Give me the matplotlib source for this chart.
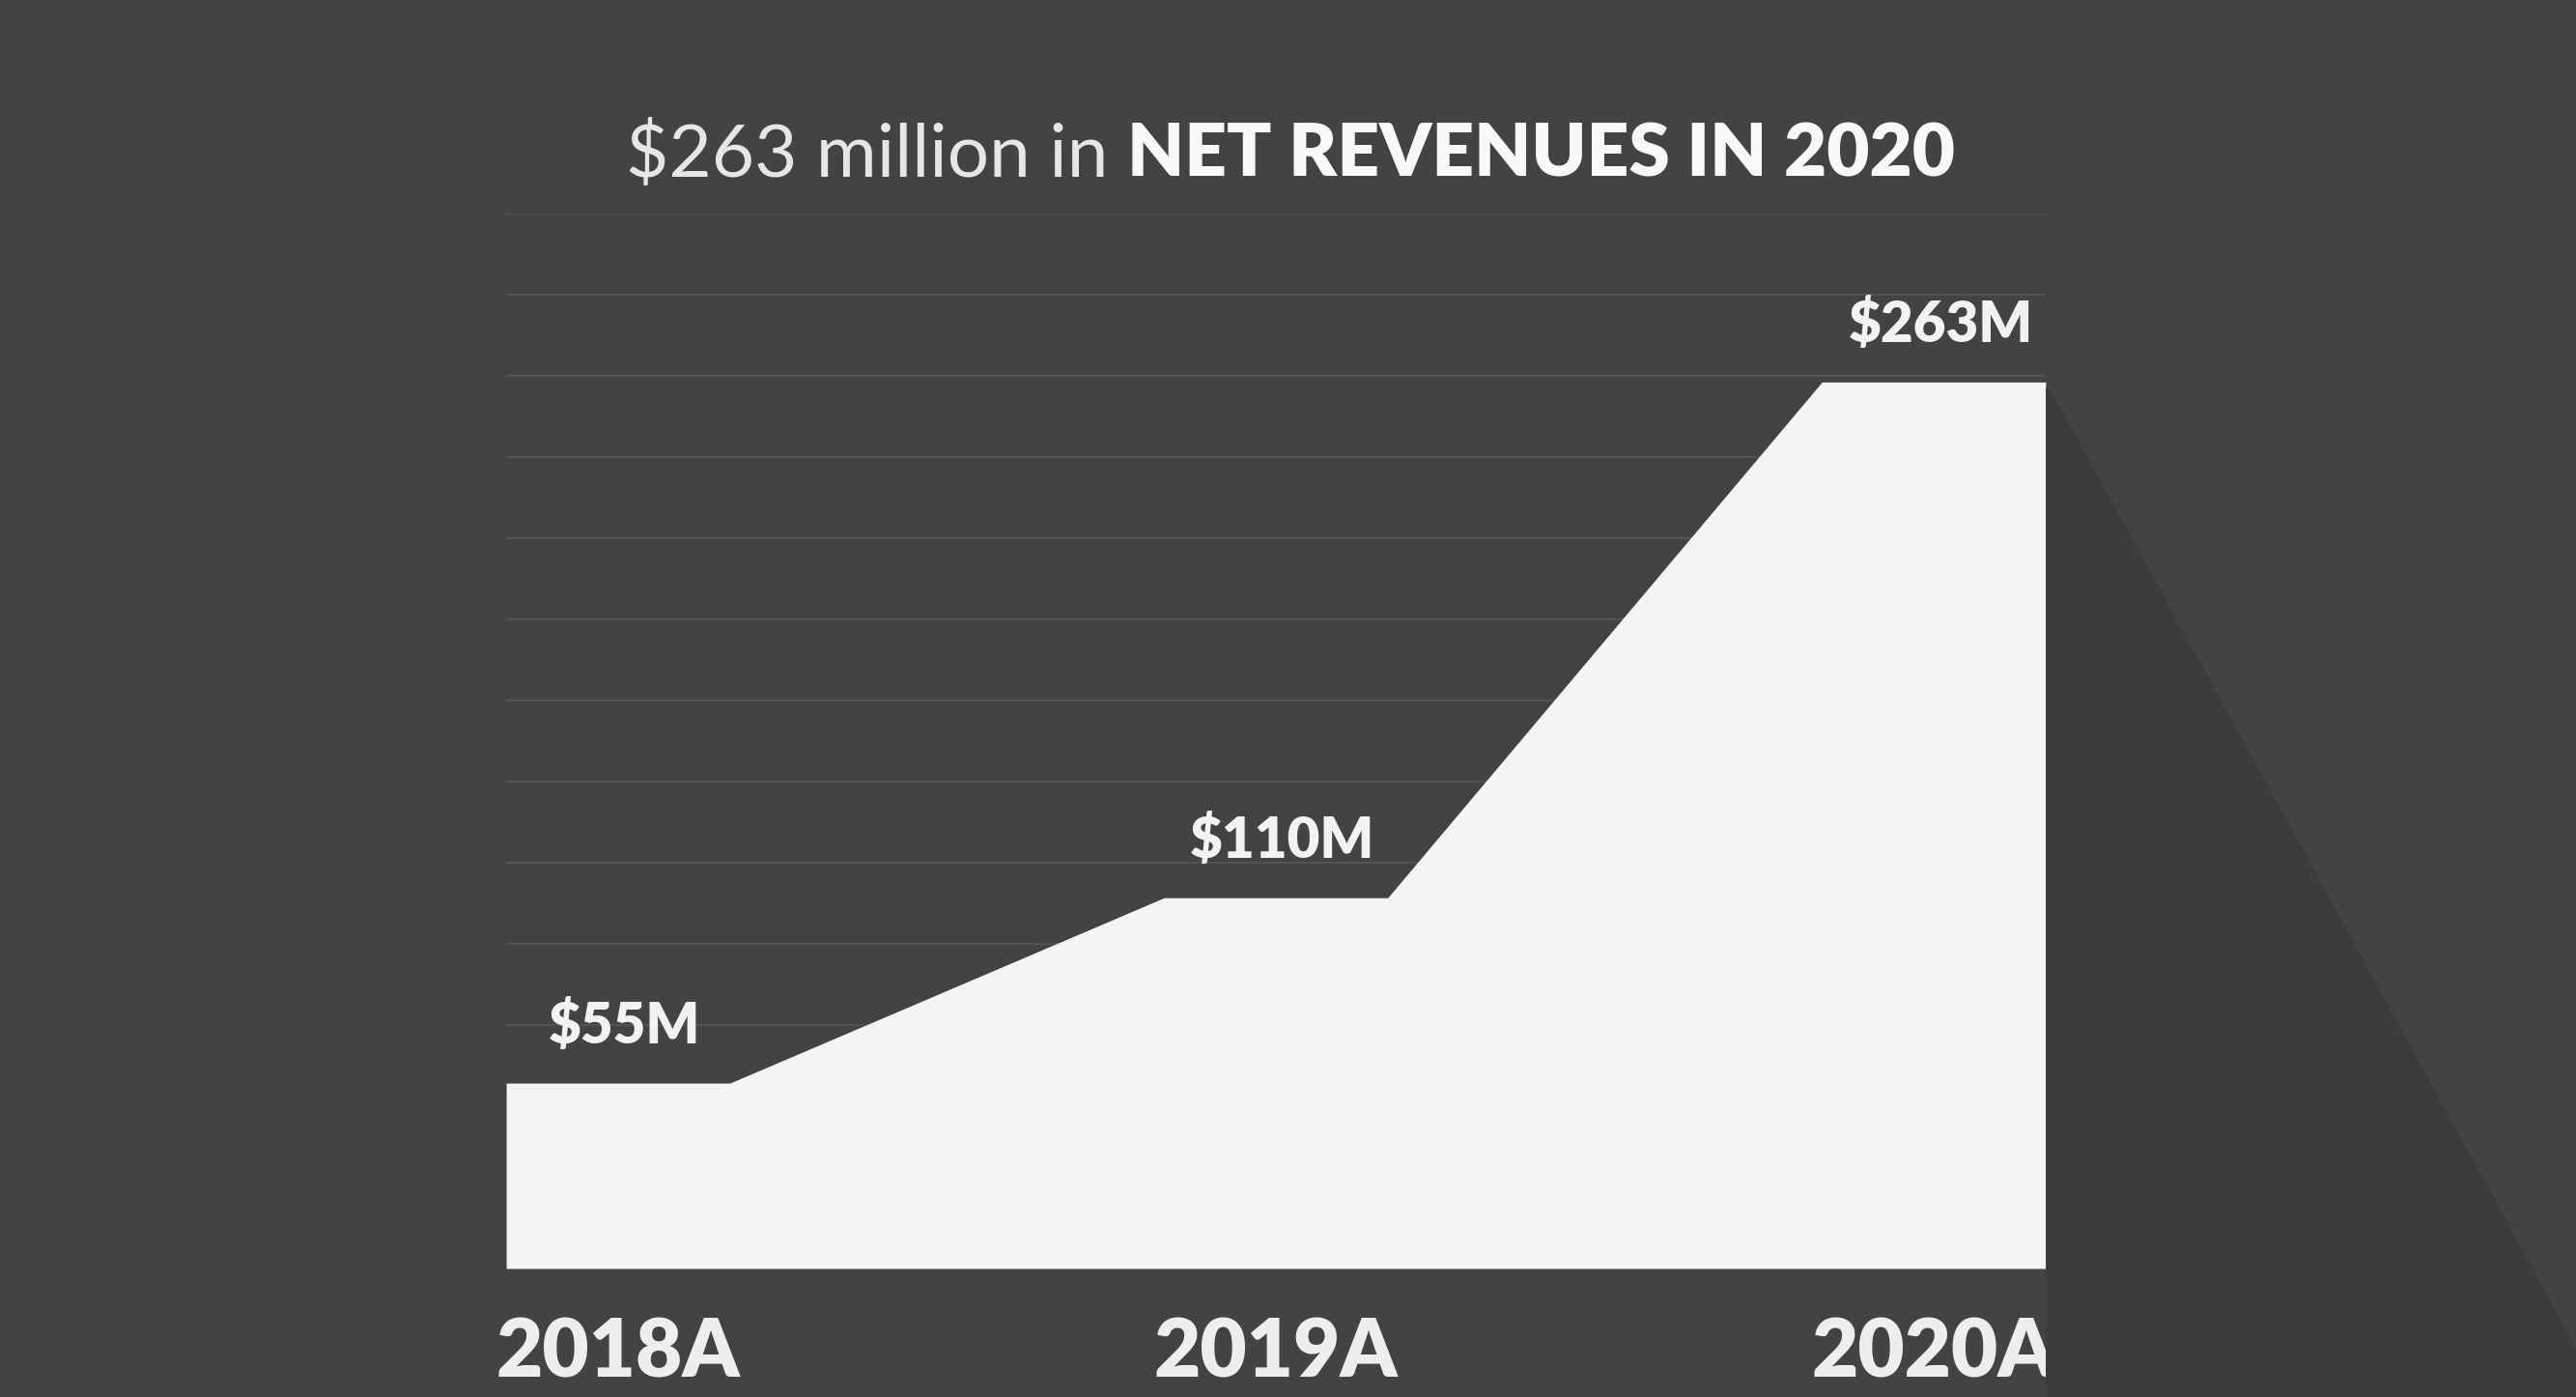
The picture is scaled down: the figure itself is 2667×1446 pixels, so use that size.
import numpy as np
import matplotlib.pyplot as plt
from matplotlib.patches import Polygon

# data
years = ['2018A', '2019A', '2020A']
revenue = [55, 110, 263]          # $M
labels = ['$55M', '$110M', '$263M']

BG = '#434345'
SHADOW = '#3c3b3e'
FILL = '#f4f4f6'
GRID = '#525256'
TXT = '#f2f2f2'

plt.rcParams['font.family'] = ['Lato', 'DejaVu Sans']

fig = plt.figure(figsize=(26.67, 14.46), dpi=100, facecolor=BG)

# long shadow behind the 2020 plateau
fig.patches.append(Polygon([(2118 / 2667, 1 - 400 / 1446), (2135 / 2667, 1 - 425 / 1446),
                            (1.0, 1 - 1395 / 1446), (1.0, 0.0), (2118 / 2667, 0.0)],
                           closed=True, transform=fig.transFigure, facecolor=SHADOW,
                           edgecolor='none', zorder=0))

ax = fig.add_axes([0.1965, 0.092, 0.5976, 0.7552])
ax.set_facecolor('none')

x = np.arange(len(years))
hw = 0.17
xs = np.ravel([[xi - hw, xi + hw] for xi in x])
ys = np.repeat(revenue, 2)

ymax = 313
for g in np.linspace(0, ymax, 14)[1:]:
    ax.axhline(g, color=GRID, lw=1.6, zorder=1)

ax.fill_between(xs, 0, ys, color=FILL, lw=0, zorder=2)

for xi, v, lab in zip(x, revenue, labels):
    ax.annotate(lab, (xi, v), xytext=(5, 43), textcoords='offset points',
                ha='center', va='center', fontsize=42, fontweight='heavy',
                color=TXT, zorder=3)

ax.set_xlim(-hw, x[-1] + hw)
ax.set_ylim(0, ymax)
ax.set_xticks(x)
ax.set_xticklabels(years, fontsize=60, fontweight='heavy', color='#eeeeee')
ax.tick_params(axis='x', length=0, pad=36)
ax.set_yticks([])
for s in ax.spines.values():
    s.set_visible(False)

# title in two weights
split = 1167 / 2667
fig.text(split, 0.889, '$263 million in ', ha='right', va='center',
         fontsize=55, fontweight='normal', color='#e6e6e6')
fig.text(split, 0.889, 'NET REVENUES IN 2020', ha='left', va='center',
         fontsize=55, fontweight='heavy', color='#f8f8f8')

fig.savefig('out.png', facecolor=BG)
